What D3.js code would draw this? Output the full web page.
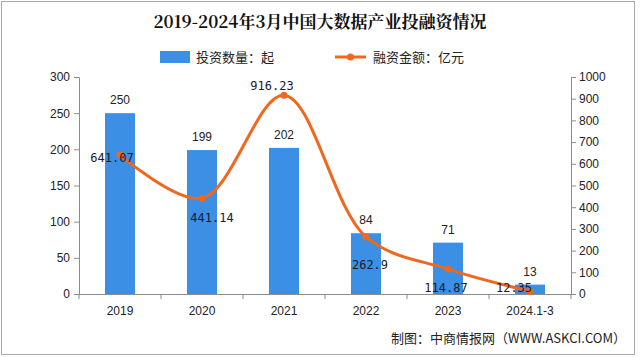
<!DOCTYPE html>
<html><head><meta charset="utf-8">
<script src="https://cdn.jsdelivr.net/npm/d3@7/dist/d3.min.js"></script>
<style>body{margin:0;background:#fff}svg{display:block}</style>
</head><body><svg id="c" width="640" height="357"></svg>
<script>
const categories = ["2019","2020","2021","2022","2023","2024.1-3"];
const dealCount = [250,199,202,84,71,13];
const financing = [641.07,441.14,916.23,262.9,114.87,12.35];
const leftTicks = [0,50,100,150,200,250,300];
const rightTicks = [0,100,200,300,400,500,600,700,800,900,1000];
const title = "2019-2024年3月中国大数据产业投融资情况";
const legendBar = "投资数量：起";
const legendLine = "融资金额：亿元";
const source = "制图：中商情报网（WWW.ASKCI.COM）";

const svg = d3.select("#c");
const blue = "#3b8fe5", orange = "#f0671e", axisC = "#8c8c8c";
const L = 79, R = 571, T = 77, B = 294;
svg.append("rect").attr("x",1.5).attr("y",1.5).attr("width",633).attr("height",353)
  .attr("fill","#fff").attr("stroke","#aaa");

const x = d3.scaleBand().domain(categories).range([L,R]).paddingInner(0).paddingOuter(0);
const yL = d3.scaleLinear().domain([0,300]).range([B,T]);
const yR = d3.scaleLinear().domain([0,1000]).range([B,T]);
const bw = 30;

svg.append("text").attr("x",320).attr("y",28).attr("text-anchor","middle")
  .attr("font-family","'Noto Serif CJK SC','Noto Sans CJK SC',serif").attr("font-weight","bold")
  .attr("font-size",17).attr("fill","#111").text(title);

// legend
svg.append("rect").attr("x",160).attr("y",51).attr("width",30).attr("height",12).attr("fill",blue);
svg.append("text").attr("x",196).attr("y",62).attr("font-family","'Noto Sans CJK SC'").attr("font-size",13).attr("fill","#222").text(legendBar);
svg.append("line").attr("x1",335).attr("x2",366).attr("y1",57).attr("y2",57).attr("stroke",orange).attr("stroke-width",3);
svg.append("circle").attr("cx",350.5).attr("cy",57).attr("r",3.5).attr("fill",orange);
svg.append("text").attr("x",373).attr("y",62).attr("font-family","'Noto Sans CJK SC'").attr("font-size",13).attr("fill","#222").text(legendLine);

// bars
svg.selectAll("rect.bar").data(dealCount).enter().append("rect").attr("class","bar")
  .attr("x",(d,i)=>x(categories[i])+x.bandwidth()/2-bw/2).attr("width",bw)
  .attr("y",d=>yL(d)).attr("height",d=>B-yL(d)).attr("fill",blue);

// axes
const fontAxis = "'Liberation Sans',Arial,sans-serif";
const gL = svg.append("g").attr("transform",`translate(${L},0)`)
  .call(d3.axisLeft(yL).tickValues(leftTicks).tickFormat(d3.format("d")).tickSize(5).tickSizeOuter(0).tickPadding(4));
const gR = svg.append("g").attr("transform",`translate(${R},0)`)
  .call(d3.axisRight(yR).tickValues(rightTicks).tickFormat(d3.format("d")).tickSize(5).tickSizeOuter(0).tickPadding(3));
const gX = svg.append("g").attr("transform",`translate(0,${B})`)
  .call(d3.axisBottom(x).tickSize(0).tickPadding(12));
[gL,gR,gX].forEach(g=>{
  g.selectAll("path").attr("stroke",axisC);
  g.selectAll("line").attr("stroke",axisC);
  g.selectAll("text").attr("font-family",fontAxis).attr("font-size",12).attr("fill","#222");
});
gX.select("path").attr("d",`M${L},0.5H${R}`);
const bounds = categories.map(c=>x(c)).concat([R]);
gX.selectAll("line.b").data(bounds).enter().append("line").attr("class","b")
  .attr("x1",d=>d).attr("x2",d=>d).attr("y1",0).attr("y2",5).attr("stroke",axisC);

// line
const pts = financing.map((v,i)=>[x(categories[i])+x.bandwidth()/2, yR(v)]);
svg.append("path").attr("d",d3.line().curve(d3.curveCatmullRom.alpha(0.5))(pts))
  .attr("fill","none").attr("stroke",orange).attr("stroke-width",3);
svg.selectAll("circle.p").data(pts).enter().append("circle").attr("class","p")
  .attr("cx",d=>d[0]).attr("cy",d=>d[1]).attr("r",3.5).attr("fill",orange);

// bar labels
const lblFont = "'DejaVu Sans Mono','Liberation Mono',monospace";
svg.selectAll("text.bl").data(dealCount).enter().append("text").attr("class","bl")
  .attr("x",(d,i)=>x(categories[i])+x.bandwidth()/2).attr("y",d=>yL(d)-9)
  .attr("text-anchor","middle").attr("font-family",fontAxis).attr("font-size",12).attr("fill","#222")
  .text(d=>d);

// line labels offsets
const off = [[-8,7],[10,24],[-12,-5],[4,32],[-2,23],[-16,1]];
svg.selectAll("text.ll").data(financing).enter().append("text").attr("class","ll")
  .attr("x",(d,i)=>pts[i][0]+off[i][0]).attr("y",(d,i)=>pts[i][1]+off[i][1])
  .attr("text-anchor","middle").attr("font-family",lblFont).attr("font-size",12).attr("fill","#1a1a2e")
  .text(d=>d);

svg.append("text").attr("x",626).attr("y",343).attr("text-anchor","end")
  .attr("font-family","'Noto Sans CJK SC'").attr("font-size",13).attr("fill","#222").text(source);
</script></body></html>
